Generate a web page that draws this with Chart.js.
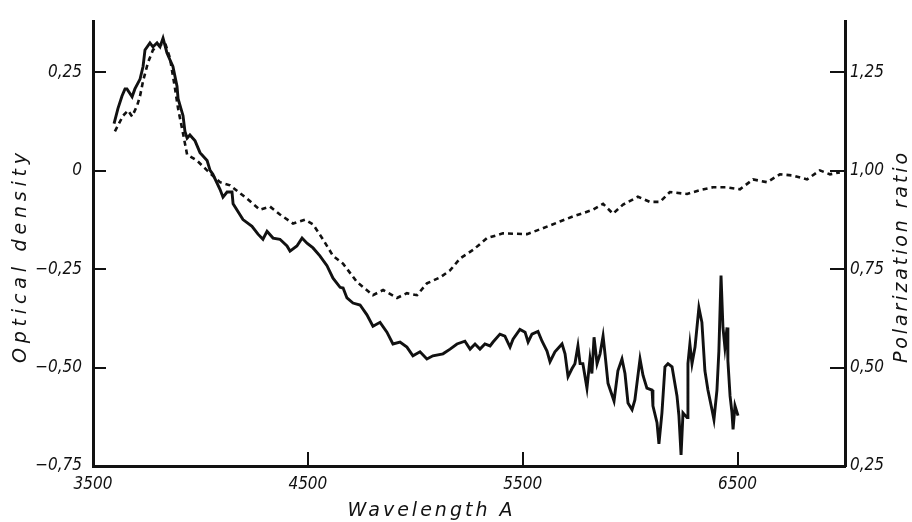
<!DOCTYPE html>
<html><head><meta charset="utf-8">
<script src="https://cdn.jsdelivr.net/npm/chart.js@4/dist/chart.umd.min.js"></script>
<style>html,body{margin:0;padding:0;background:#fff}#wrap{width:912px;height:522px}</style>
</head><body><div id="wrap"><canvas id="c" width="912" height="522"></canvas></div>
<script>
// Optical density (solid line, left axis)
const densityWavelengths = [3598,3616,3635,3649,3658,3682,3695,3719,3733,3742,3765,3779,3798,3812,3826,3844,3858,3872,3891,3896,3919,3928,3938,3951,3975,3998,4031,4045,4058,4091,4105,4124,4147,4152,4198,4240,4268,4291,4310,4338,4370,4403,4417,4449,4473,4496,4524,4556,4589,4617,4650,4664,4682,4710,4743,4775,4803,4836,4868,4896,4929,4961,4989,5022,5054,5082,5129,5162,5194,5231,5255,5278,5301,5324,5348,5362,5394,5417,5441,5455,5487,5511,5525,5543,5571,5590,5613,5627,5650,5683,5697,5711,5729,5743,5757,5767,5780,5799,5813,5822,5832,5846,5860,5874,5883,5897,5925,5943,5962,5976,5990,6009,6022,6046,6060,6078,6102,6106,6125,6134,6148,6162,6176,6195,6218,6227,6237,6246,6265,6269,6278,6288,6302,6320,6334,6348,6362,6381,6390,6404,6413,6423,6432,6441,6451,6455,6465,6474,6479,6488,6502];
const densityValues = [0.120,0.158,0.190,0.208,0.208,0.188,0.208,0.233,0.265,0.307,0.325,0.315,0.325,0.315,0.337,0.300,0.282,0.265,0.215,0.183,0.140,0.100,0.083,0.091,0.076,0.046,0.026,0.001,-0.009,-0.047,-0.067,-0.054,-0.054,-0.084,-0.124,-0.141,-0.161,-0.174,-0.154,-0.171,-0.174,-0.191,-0.204,-0.191,-0.171,-0.184,-0.196,-0.216,-0.241,-0.273,-0.296,-0.298,-0.323,-0.336,-0.341,-0.366,-0.395,-0.385,-0.410,-0.440,-0.435,-0.448,-0.470,-0.460,-0.478,-0.470,-0.465,-0.453,-0.440,-0.433,-0.453,-0.440,-0.453,-0.440,-0.445,-0.435,-0.415,-0.420,-0.448,-0.428,-0.403,-0.410,-0.435,-0.415,-0.408,-0.433,-0.458,-0.485,-0.460,-0.440,-0.465,-0.523,-0.503,-0.490,-0.445,-0.490,-0.490,-0.552,-0.478,-0.515,-0.423,-0.490,-0.465,-0.420,-0.465,-0.540,-0.585,-0.508,-0.478,-0.515,-0.590,-0.607,-0.582,-0.478,-0.520,-0.552,-0.557,-0.597,-0.640,-0.694,-0.615,-0.498,-0.490,-0.498,-0.572,-0.622,-0.722,-0.615,-0.627,-0.490,-0.440,-0.490,-0.448,-0.348,-0.385,-0.508,-0.557,-0.607,-0.632,-0.557,-0.458,-0.266,-0.398,-0.448,-0.398,-0.483,-0.572,-0.615,-0.657,-0.597,-0.622];
// Polarization ratio (dashed line, right axis)
const polarWavelengths = [3602,3616,3640,3663,3682,3705,3719,3733,3756,3779,3812,3835,3858,3882,3896,3919,3938,3984,4031,4091,4138,4217,4277,4324,4370,4431,4487,4524,4570,4617,4664,4729,4803,4850,4915,4961,5008,5054,5115,5162,5208,5269,5334,5408,5520,5594,5673,5734,5827,5874,5920,5967,6036,6092,6139,6185,6265,6325,6385,6451,6511,6572,6637,6697,6758,6823,6883,6930,6976];
const polarValues = [1.100,1.115,1.140,1.153,1.138,1.165,1.190,1.228,1.275,1.307,1.320,1.325,1.287,1.208,1.158,1.095,1.041,1.026,1.001,0.971,0.963,0.929,0.901,0.909,0.889,0.866,0.876,0.864,0.826,0.784,0.764,0.717,0.684,0.697,0.677,0.689,0.684,0.714,0.729,0.747,0.777,0.799,0.829,0.841,0.839,0.854,0.871,0.884,0.901,0.916,0.891,0.914,0.934,0.921,0.921,0.946,0.941,0.951,0.958,0.958,0.953,0.978,0.971,0.991,0.988,0.978,1.001,0.991,0.996];

const xTicks = [3500, 4500, 5500, 6500];
const xTickLabels = ['3500', '4500', '5500', '6500'];
const densityTicks = [0.25, 0, -0.25, -0.5, -0.75];
const densityTickLabels = ['0,25', '0', '\u22120,25', '\u22120,50', '\u22120,75'];
const polarTicks = [1.25, 1.0, 0.75, 0.5, 0.25];
const polarTickLabels = ['1,25', '1,00', '0,75', '0,50', '0,25'];
const xTitle = 'Wavelength A';
const yLeftTitle = 'Optical density';
const yRightTitle = 'Polarization ratio';

const INK = '#111';
const tickFont = {family: '"DejaVu Sans Condensed", "DejaVu Sans", sans-serif', size: 17, style: 'italic'};

const inwardTicks = {
  id: 'inwardTicks',
  afterDraw(chart) {
    const ctx = chart.ctx;
    const a = chart.chartArea;
    ctx.save();
    ctx.strokeStyle = INK;
    ctx.lineWidth = 2;
    const yl = chart.scales.yL, yr = chart.scales.yR, x = chart.scales.x;
    densityTicks.forEach(v => {
      const p = Math.round(yl.getPixelForValue(v));
      ctx.beginPath(); ctx.moveTo(a.left, p); ctx.lineTo(a.left + 13, p); ctx.stroke();
    });
    polarTicks.forEach(v => {
      const p = Math.round(yr.getPixelForValue(v));
      ctx.beginPath(); ctx.moveTo(a.right - 15, p); ctx.lineTo(a.right, p); ctx.stroke();
    });
    xTicks.forEach(v => {
      const p = Math.round(x.getPixelForValue(v));
      ctx.beginPath(); ctx.moveTo(p, a.bottom); ctx.lineTo(p, a.bottom - 14); ctx.stroke();
    });
    ctx.restore();
  }
};

function spacedText(ctx, text, cx, cy, targetWidth) {
  ctx.letterSpacing = '0px';
  const w = ctx.measureText(text).width;
  const ls = Math.max(0, (targetWidth - w) / (text.length - 1));
  ctx.letterSpacing = ls + 'px';
  const w2 = ctx.measureText(text).width;
  ctx.textAlign = 'left';
  ctx.fillText(text, cx - (w2 - ls) / 2, cy);
}

const titles = {
  id: 'titles',
  afterDraw(chart) {
    const ctx = chart.ctx;
    ctx.save();
    ctx.fillStyle = INK;
    ctx.textBaseline = 'middle';
    ctx.font = 'italic 19px "DejaVu Sans", sans-serif';
    spacedText(ctx, xTitle, 430, 511, 165);
    ctx.save(); ctx.translate(21, 258); ctx.rotate(-Math.PI / 2); spacedText(ctx, yLeftTitle, 0, 0, 210); ctx.restore();
    ctx.save(); ctx.translate(902, 258); ctx.rotate(-Math.PI / 2); spacedText(ctx, yRightTitle, 0, 0, 210); ctx.restore();
    ctx.restore();
  }
};

new Chart(document.getElementById('c'), {
  type: 'line',
  data: {
    datasets: [
      {
        label: 'Optical density',
        data: densityWavelengths.map((w, i) => ({x: w, y: densityValues[i]})),
        yAxisID: 'yL',
        borderColor: INK,
        borderWidth: 2.9,
        pointRadius: 0,
        tension: 0,
        fill: false
      },
      {
        label: 'Polarization ratio',
        data: polarWavelengths.map((w, i) => ({x: w, y: polarValues[i]})),
        yAxisID: 'yR',
        borderColor: INK,
        borderWidth: 2.6,
        borderDash: [5, 4],
        pointRadius: 0,
        tension: 0,
        fill: false
      }
    ]
  },
  options: {
    responsive: false,
    animation: false,
    devicePixelRatio: 1,
    layout: {padding: {top: 10, left: 0, right: 0, bottom: 0}},
    plugins: {legend: {display: false}, tooltip: {enabled: false}},
    scales: {
      x: {
        type: 'linear', position: 'bottom', min: 3500, max: 7000,
        afterBuildTicks: s => { s.ticks = xTicks.map(v => ({value: v})); },
        afterFit: s => { s.height = 56; },
        ticks: {
          callback: (v) => xTickLabels[xTicks.indexOf(v)],
          font: tickFont, color: INK, padding: 8, maxRotation: 0, autoSkip: false
        },
        grid: {display: false, drawTicks: false},
        border: {display: true, color: INK, width: 3}
      },
      yL: {
        type: 'linear', position: 'left', min: -0.75, max: 0.38,
        afterBuildTicks: s => { s.ticks = densityTicks.map(v => ({value: v})); },
        afterFit: s => { s.width = 93; },
        ticks: {
          callback: (v) => densityTickLabels[densityTicks.indexOf(v)],
          font: tickFont, color: INK, padding: 11, autoSkip: false
        },
        grid: {display: false, drawTicks: false},
        border: {display: true, color: INK, width: 3}
      },
      yR: {
        type: 'linear', position: 'right', min: 0.25, max: 1.38,
        afterBuildTicks: s => { s.ticks = polarTicks.map(v => ({value: v})); },
        afterFit: s => { s.width = 67; },
        ticks: {
          callback: (v) => polarTickLabels[polarTicks.indexOf(v)],
          font: tickFont, color: INK, padding: 5, autoSkip: false
        },
        grid: {display: false, drawTicks: false},
        border: {display: true, color: INK, width: 3}
      }
    }
  },
  plugins: [inwardTicks, titles]
});
</script>
</body></html>
